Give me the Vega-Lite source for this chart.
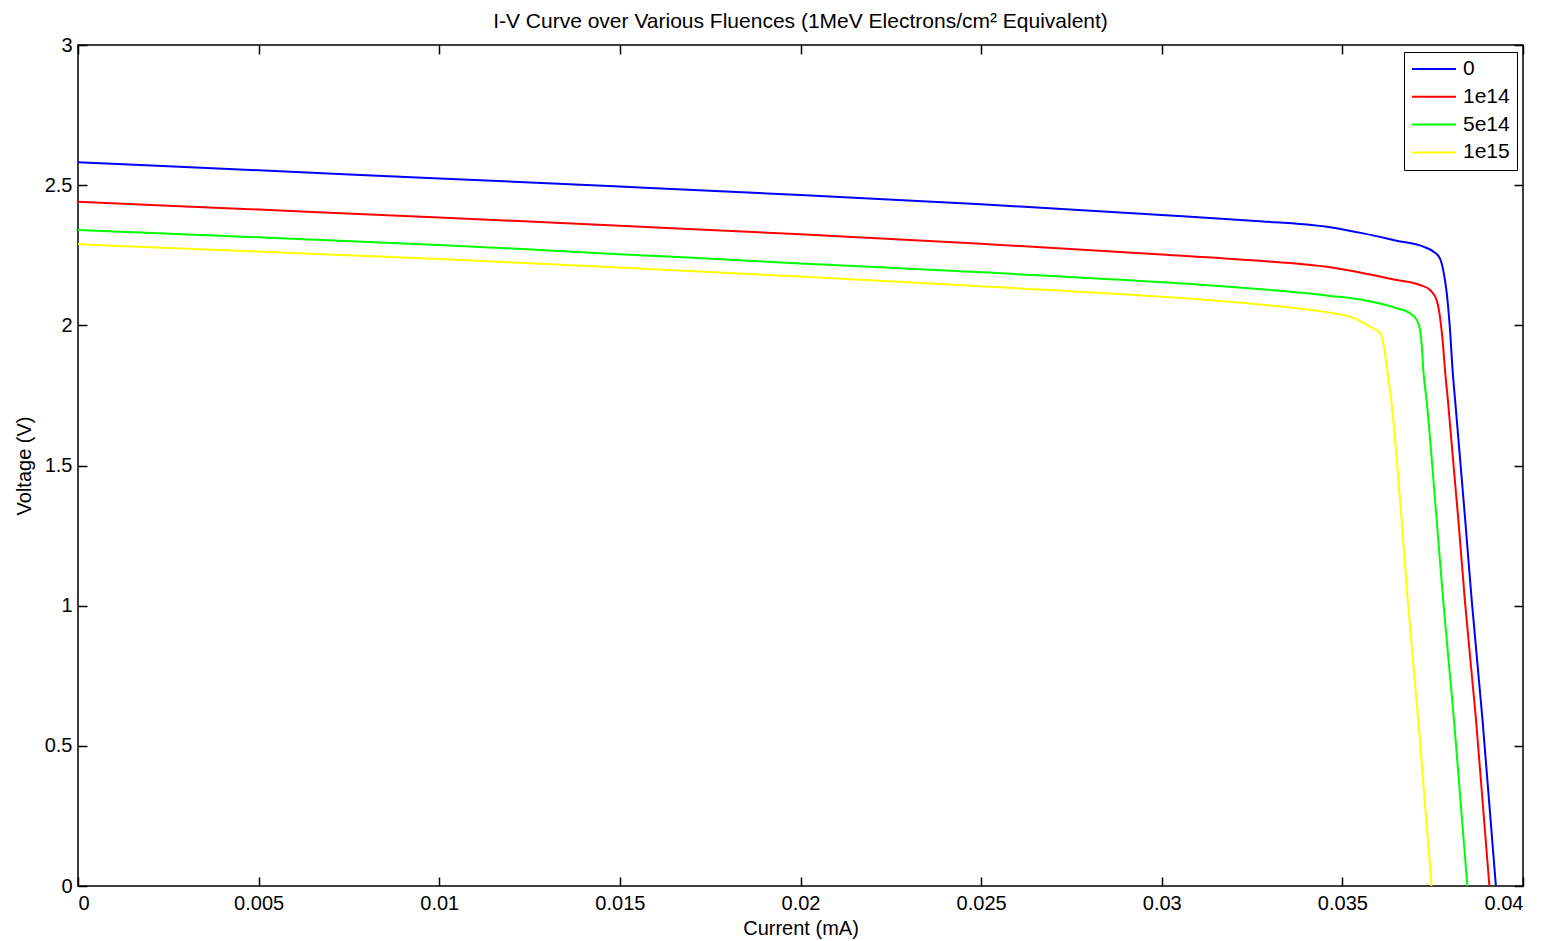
{
  "$schema": "https://vega.github.io/schema/vega-lite/v6.json",
  "width": 1445,
  "height": 841,
  "autosize": {"type": "none"},
  "padding": {"left": 78, "top": 45, "right": 30, "bottom": 55},
  "background": "white",
  "title": {
    "text": "I-V Curve over Various Fluences (1MeV Electrons/cm² Equivalent)",
    "font": "Liberation Sans",
    "fontSize": 21,
    "fontWeight": "normal",
    "color": "#000",
    "anchor": "middle",
    "offset": 3
  },
  "config": {
    "view": {"stroke": "#000", "strokeWidth": 1.5},
    "font": "Liberation Sans",
    "axis": {
      "grid": false,
      "domain": false,
      "tickColor": "#000",
      "tickWidth": 1.5,
      "tickSize": -9,
      "labelFont": "Liberation Sans",
      "labelFontSize": 20,
      "labelColor": "#000",
      "titleFont": "Liberation Sans",
      "titleFontSize": 20,
      "titleFontWeight": "normal",
      "titleColor": "#000"
    }
  },
  "data": {
    "values": [
      {"fluence": "0", "current": 0, "voltage": 2.582},
      {"fluence": "0", "current": 0.005, "voltage": 2.553},
      {"fluence": "0", "current": 0.01, "voltage": 2.524},
      {"fluence": "0", "current": 0.015, "voltage": 2.495},
      {"fluence": "0", "current": 0.02, "voltage": 2.465},
      {"fluence": "0", "current": 0.025, "voltage": 2.432},
      {"fluence": "0", "current": 0.03, "voltage": 2.394},
      {"fluence": "0", "current": 0.0325, "voltage": 2.373},
      {"fluence": "0", "current": 0.03466, "voltage": 2.35},
      {"fluence": "0", "current": 0.03558, "voltage": 2.328},
      {"fluence": "0", "current": 0.0365, "voltage": 2.302},
      {"fluence": "0", "current": 0.03724, "voltage": 2.281},
      {"fluence": "0", "current": 0.03752, "voltage": 2.263},
      {"fluence": "0", "current": 0.0377, "voltage": 2.239},
      {"fluence": "0", "current": 0.03779, "voltage": 2.198},
      {"fluence": "0", "current": 0.03789, "voltage": 2.114},
      {"fluence": "0", "current": 0.03798, "voltage": 1.983},
      {"fluence": "0", "current": 0.03805, "voltage": 1.841},
      {"fluence": "0", "current": 0.03812, "voltage": 1.734},
      {"fluence": "0", "current": 0.0384, "voltage": 1.306},
      {"fluence": "0", "current": 0.03858, "voltage": 1.02},
      {"fluence": "0", "current": 0.03888, "voltage": 0.592},
      {"fluence": "0", "current": 0.03925, "voltage": 0},
      {"fluence": "1e14", "current": 0, "voltage": 2.441},
      {"fluence": "1e14", "current": 0.005, "voltage": 2.413},
      {"fluence": "1e14", "current": 0.01, "voltage": 2.385},
      {"fluence": "1e14", "current": 0.015, "voltage": 2.355},
      {"fluence": "1e14", "current": 0.02, "voltage": 2.325},
      {"fluence": "1e14", "current": 0.025, "voltage": 2.291},
      {"fluence": "1e14", "current": 0.03, "voltage": 2.253},
      {"fluence": "1e14", "current": 0.0325, "voltage": 2.232},
      {"fluence": "1e14", "current": 0.03466, "voltage": 2.207},
      {"fluence": "1e14", "current": 0.03558, "voltage": 2.186},
      {"fluence": "1e14", "current": 0.0365, "voltage": 2.162},
      {"fluence": "1e14", "current": 0.03715, "voltage": 2.144},
      {"fluence": "1e14", "current": 0.03743, "voltage": 2.126},
      {"fluence": "1e14", "current": 0.03761, "voltage": 2.09},
      {"fluence": "1e14", "current": 0.0377, "voltage": 2.031},
      {"fluence": "1e14", "current": 0.03779, "voltage": 1.924},
      {"fluence": "1e14", "current": 0.03784, "voltage": 1.841},
      {"fluence": "1e14", "current": 0.03792, "voltage": 1.734},
      {"fluence": "1e14", "current": 0.03821, "voltage": 1.306},
      {"fluence": "1e14", "current": 0.03839, "voltage": 1.02},
      {"fluence": "1e14", "current": 0.0387, "voltage": 0.592},
      {"fluence": "1e14", "current": 0.03907, "voltage": 0},
      {"fluence": "5e14", "current": 0, "voltage": 2.34},
      {"fluence": "5e14", "current": 0.005, "voltage": 2.314},
      {"fluence": "5e14", "current": 0.01, "voltage": 2.287},
      {"fluence": "5e14", "current": 0.015, "voltage": 2.254},
      {"fluence": "5e14", "current": 0.02, "voltage": 2.221},
      {"fluence": "5e14", "current": 0.025, "voltage": 2.189},
      {"fluence": "5e14", "current": 0.03, "voltage": 2.154},
      {"fluence": "5e14", "current": 0.0325, "voltage": 2.131},
      {"fluence": "5e14", "current": 0.03466, "voltage": 2.105},
      {"fluence": "5e14", "current": 0.03558, "voltage": 2.09},
      {"fluence": "5e14", "current": 0.0365, "voltage": 2.061},
      {"fluence": "5e14", "current": 0.03687, "voltage": 2.043},
      {"fluence": "5e14", "current": 0.03706, "voltage": 2.019},
      {"fluence": "5e14", "current": 0.03715, "voltage": 1.983},
      {"fluence": "5e14", "current": 0.0372, "voltage": 1.924},
      {"fluence": "5e14", "current": 0.03724, "voltage": 1.841},
      {"fluence": "5e14", "current": 0.03733, "voltage": 1.734},
      {"fluence": "5e14", "current": 0.03761, "voltage": 1.306},
      {"fluence": "5e14", "current": 0.03779, "voltage": 1.02},
      {"fluence": "5e14", "current": 0.03809, "voltage": 0.592},
      {"fluence": "5e14", "current": 0.03846, "voltage": 0},
      {"fluence": "1e15", "current": 0, "voltage": 2.289},
      {"fluence": "1e15", "current": 0.005, "voltage": 2.263},
      {"fluence": "1e15", "current": 0.01, "voltage": 2.237},
      {"fluence": "1e15", "current": 0.015, "voltage": 2.206},
      {"fluence": "1e15", "current": 0.02, "voltage": 2.174},
      {"fluence": "1e15", "current": 0.025, "voltage": 2.139},
      {"fluence": "1e15", "current": 0.03, "voltage": 2.102},
      {"fluence": "1e15", "current": 0.0325, "voltage": 2.077},
      {"fluence": "1e15", "current": 0.03466, "voltage": 2.045},
      {"fluence": "1e15", "current": 0.03521, "voltage": 2.031},
      {"fluence": "1e15", "current": 0.03577, "voltage": 1.995},
      {"fluence": "1e15", "current": 0.03604, "voltage": 1.972},
      {"fluence": "1e15", "current": 0.03613, "voltage": 1.936},
      {"fluence": "1e15", "current": 0.03618, "voltage": 1.9},
      {"fluence": "1e15", "current": 0.03624, "voltage": 1.841},
      {"fluence": "1e15", "current": 0.03635, "voltage": 1.734},
      {"fluence": "1e15", "current": 0.03664, "voltage": 1.306},
      {"fluence": "1e15", "current": 0.03681, "voltage": 1.02},
      {"fluence": "1e15", "current": 0.0371, "voltage": 0.592},
      {"fluence": "1e15", "current": 0.03747, "voltage": 0}
    ]
  },
  "resolve": {"axis": {"x": "independent", "y": "independent"}},
  "layer": [
    {
      "mark": {"type": "line", "strokeWidth": 2, "clip": true, "interpolate": "monotone"},
      "encoding": {
        "x": {
          "field": "current",
          "type": "quantitative",
          "scale": {"domain": [0, 0.04], "nice": false, "zero": false},
          "axis": {
            "orient": "bottom",
            "title": "Current (mA)",
            "values": [0, 0.005, 0.01, 0.015, 0.02, 0.025, 0.03, 0.035, 0.04],
            "format": ".3~f",
            "labelPadding": 16,
            "titlePadding": 5
          }
        },
        "y": {
          "field": "voltage",
          "type": "quantitative",
          "scale": {"domain": [0, 3], "nice": false, "zero": false},
          "axis": {
            "orient": "left",
            "title": "Voltage (V)",
            "values": [0, 0.5, 1, 1.5, 2, 2.5, 3],
            "format": ".1~f",
            "labelPadding": 15,
            "titlePadding": 10
          }
        },
        "color": {
          "field": "fluence",
          "type": "nominal",
          "sort": ["0", "1e14", "5e14", "1e15"],
          "scale": {
            "domain": ["0", "1e14", "5e14", "1e15"],
            "range": ["#0000ff", "#ff0000", "#00ff00", "#ffff00"]
          },
          "legend": {
            "title": null,
            "orient": "none",
            "legendX": 1326,
            "legendY": 7,
            "symbolType": "stroke",
            "symbolSize": 1936,
            "symbolStrokeWidth": 2,
            "labelFontSize": 21,
            "labelFont": "Liberation Sans",
            "labelColor": "#000",
            "clipHeight": 20,
            "rowPadding": 6.8,
            "padding": 7,
            "strokeColor": "#000",
            "fillColor": "#fff",
            "labelOffset": 6
          }
        }
      }
    },
    {
      "mark": {"type": "line", "strokeOpacity": 0},
      "encoding": {
        "x": {
          "field": "current",
          "type": "quantitative",
          "axis": {
            "orient": "top",
            "title": null,
            "labels": false,
            "values": [0, 0.005, 0.01, 0.015, 0.02, 0.025, 0.03, 0.035, 0.04]
          }
        },
        "y": {
          "field": "voltage",
          "type": "quantitative",
          "axis": {
            "orient": "right",
            "title": null,
            "labels": false,
            "values": [0, 0.5, 1, 1.5, 2, 2.5, 3]
          }
        },
        "detail": {"field": "fluence", "type": "nominal"}
      }
    }
  ]
}
